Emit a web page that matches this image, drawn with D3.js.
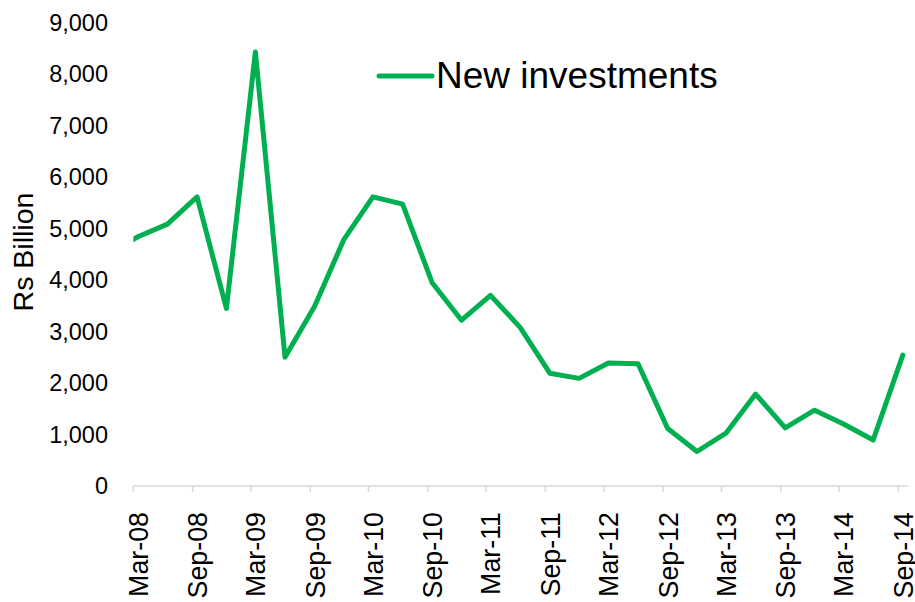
<!DOCTYPE html>
<meta charset="utf-8">
<style>
  body { margin: 0; background: #fff; }
  text { font-family: "Liberation Sans", Arial, sans-serif; fill: #000; }
</style>
<script src="https://cdn.jsdelivr.net/npm/d3@7/dist/d3.min.js"></script>
<body>
<div id="chart"></div>
</body>
<script>
// quarters (data dated mid-month; Dec-07 sits just left of the plot and is clipped)
var quarters = ["Dec-07","Mar-08","Jun-08","Sep-08","Dec-08","Mar-09","Jun-09","Sep-09","Dec-09",
                "Mar-10","Jun-10","Sep-10","Dec-10","Mar-11","Jun-11","Sep-11","Dec-11",
                "Mar-12","Jun-12","Sep-12","Dec-12","Mar-13","Jun-13","Sep-13","Dec-13",
                "Mar-14","Jun-14","Sep-14"];
// Rs Billion
var newInvestments = [4500, 4840, 5085, 5614, 3448, 8428, 2500, 3490, 4790,
                      5614, 5473, 3946, 3220, 3700, 3080, 2190, 2090,
                      2390, 2375, 1115, 670, 1025, 1785, 1130, 1472,
                      1205, 893, 2542];
var yTicks = [0, 1000, 2000, 3000, 4000, 5000, 6000, 7000, 8000, 9000];
var xTickLabels = ["Mar-08","Sep-08","Mar-09","Sep-09","Mar-10","Sep-10","Mar-11",
                   "Sep-11","Mar-12","Sep-12","Mar-13","Sep-13","Mar-14","Sep-14"];

var parseTick = d3.timeParse("%b-%y");
function dataDate(q) { var d = parseTick(q); return new Date(d.getFullYear(), d.getMonth(), 15); }

var W = 915, H = 602;
var svg = d3.select("#chart").append("svg")
  .attr("width", W).attr("height", H);

// scales
var x = d3.scaleTime()
  .domain([parseTick("Mar-08"), parseTick("Sep-14")])
  .range([133.3, 898.3]);
var y = d3.scaleLinear().domain([0, 9000]).range([486, 22.5]);
var plotLeft = x.range()[0], plotRight = 908;

svg.append("defs").append("clipPath")
    .attr("id", "clip")
  .append("rect")
    .attr("x", plotLeft).attr("y", 0)
    .attr("width", plotRight - plotLeft).attr("height", H);

// y axis: labels only
var fmt = d3.format(",");
svg.append("g").selectAll("text")
  .data(yTicks)
  .enter().append("text")
    .attr("x", 108)
    .attr("y", function(d) { return y(d); })
    .attr("dy", "0.36em")
    .attr("text-anchor", "end")
    .style("font-size", "23.5px")
    .text(function(d) { return fmt(d); });

svg.append("text")
  .attr("transform", "translate(33,252) rotate(-90)")
  .attr("text-anchor", "middle")
  .style("font-size", "28.5px")
  .text("Rs Billion");

// x axis
var xAxis = svg.append("g");
xAxis.append("line")
  .attr("x1", plotLeft).attr("x2", plotRight)
  .attr("y1", y(0)).attr("y2", y(0))
  .attr("stroke", "#d9d9d9").attr("stroke-width", 1.5);
xAxis.selectAll("line.tick")
  .data(xTickLabels)
  .enter().append("line")
    .attr("class", "tick")
    .attr("x1", function(d) { return x(parseTick(d)); })
    .attr("x2", function(d) { return x(parseTick(d)); })
    .attr("y1", y(0)).attr("y2", y(0) + 6)
    .attr("stroke", "#d9d9d9").attr("stroke-width", 1.5);
xAxis.selectAll("text")
  .data(xTickLabels)
  .enter().append("text")
    .attr("transform", function(d) { return "translate(" + (x(parseTick(d)) + 5) + ",512) rotate(-90)"; })
    .attr("dy", "0.35em")
    .attr("text-anchor", "end")
    .style("font-size", "26.8px")
    .text(function(d) { return d; });

// line
var line = d3.line()
  .x(function(d, i) { return x(dataDate(quarters[i])); })
  .y(function(d) { return y(d); });

svg.append("path")
  .datum(newInvestments)
  .attr("clip-path", "url(#clip)")
  .attr("fill", "none")
  .attr("stroke", "#00b050")
  .attr("stroke-width", 5)
  .attr("stroke-linejoin", "round")
  .attr("stroke-linecap", "round")
  .attr("d", line);

// legend
svg.append("line")
  .attr("x1", 379).attr("x2", 432)
  .attr("y1", 76).attr("y2", 76)
  .attr("stroke", "#00b050").attr("stroke-width", 5)
  .attr("stroke-linecap", "round");
svg.append("text")
  .attr("x", 436).attr("y", 88)
  .style("font-size", "37px")
  .text("New investments");
</script>
</html>
